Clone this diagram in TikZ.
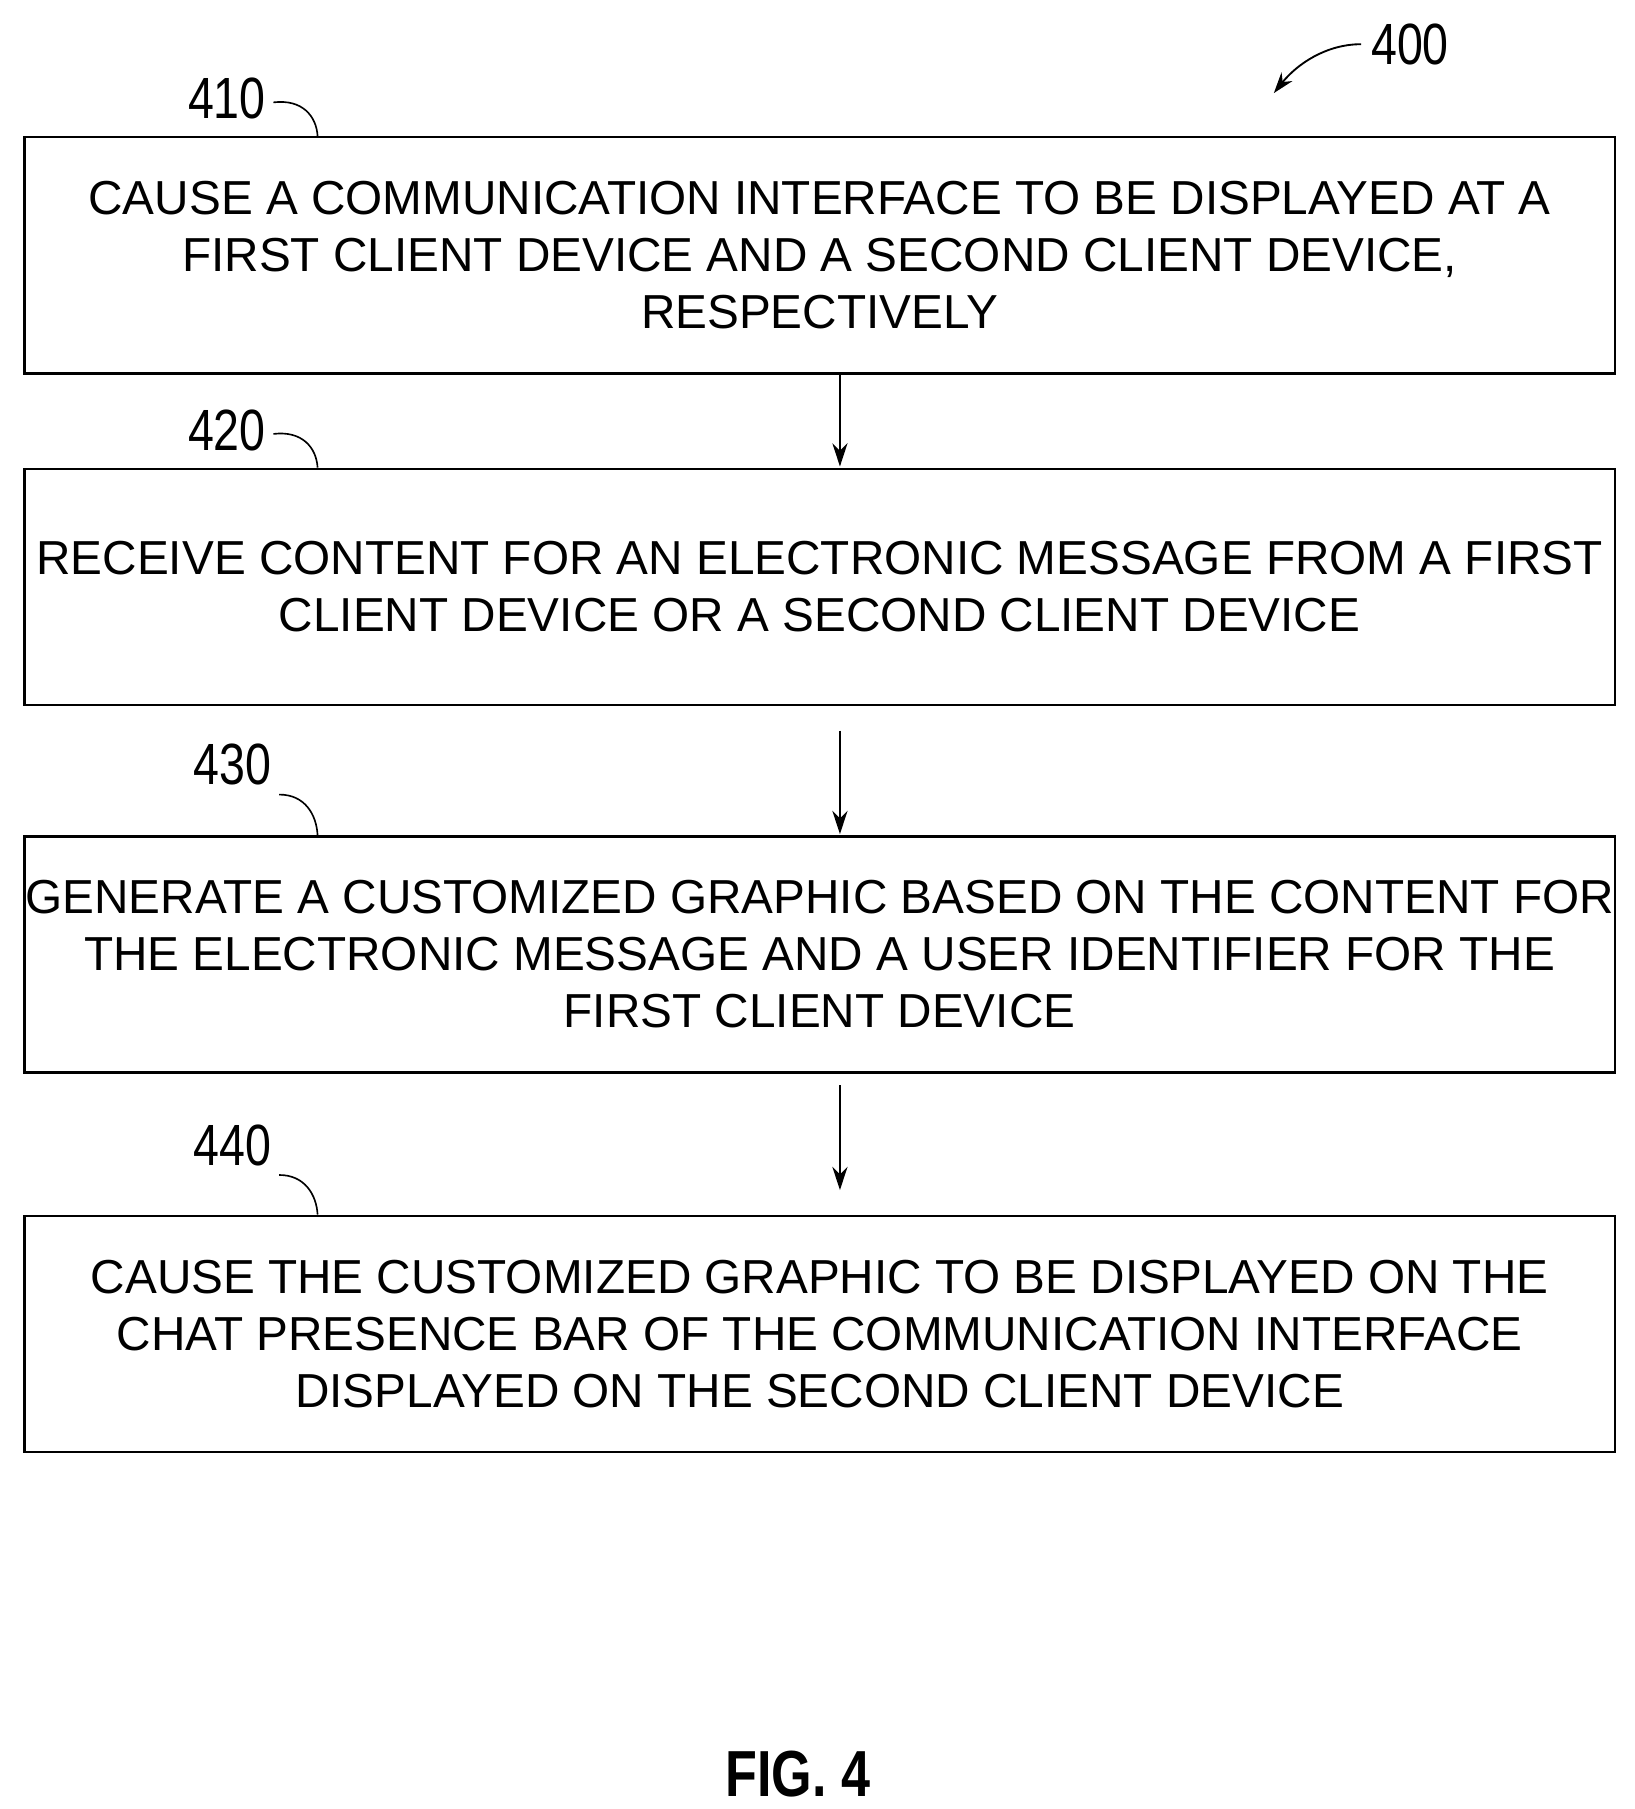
\documentclass[tikz,border=0pt]{standalone}
\usetikzlibrary{arrows.meta}
\usepackage{fontspec}
\setmainfont{Liberation Sans}
\begin{document}
\begin{tikzpicture}[x=1pt,y=-1pt,
  box/.style={draw,line width=2pt,minimum width=1367pt,minimum height=203pt,anchor=north west,inner sep=0pt,align=center,font=\fontsize{41}{49}\selectfont},
  lab/.style={font=\fontsize{50}{50}\selectfont,xscale=0.8},
  arr/.style={-{Stealth[length=20pt,width=13pt]},line width=2pt}]
\useasboundingbox (0,0) rectangle (1405,1555);
\node[box] (b1) at (20,117) {CAUSE A COMMUNICATION INTERFACE TO BE DISPLAYED AT A\\FIRST CLIENT DEVICE AND A SECOND CLIENT DEVICE,\\RESPECTIVELY};
\node[box] (b2) at (20,402) {RECEIVE CONTENT FOR AN ELECTRONIC MESSAGE FROM A FIRST\\CLIENT DEVICE OR A SECOND CLIENT DEVICE};
\node[box] (b3) at (20,718) {GENERATE A CUSTOMIZED GRAPHIC BASED ON THE CONTENT FOR\\THE ELECTRONIC MESSAGE AND A USER IDENTIFIER FOR THE\\FIRST CLIENT DEVICE};
\node[box] (b4) at (20,1044) {CAUSE THE CUSTOMIZED GRAPHIC TO BE DISPLAYED ON THE\\CHAT PRESENCE BAR OF THE COMMUNICATION INTERFACE\\DISPLAYED ON THE SECOND CLIENT DEVICE};
\coordinate (s2) at (722,628);
\coordinate (s3) at (722,933);
\draw[arr] (722,320) -- (722,401);
\draw[arr] (s2) -- (722,717);
\draw[arr] (s3) -- (722,1023);
\node[lab] (l1) at (195,85) {410};
\node[lab] (l2) at (195,370) {420};
\node[lab] (l3) at (200,657) {430};
\node[lab] (l4) at (200,985) {440};
\draw[line width=1.4pt] (235,88) .. controls (260,85) and (272,100) .. (273,117);
\draw[line width=1.4pt] (235,373) .. controls (260,370) and (272,385) .. (273,402);
\draw[line width=1.4pt] (240,683) .. controls (262,683) and (272,700) .. (273,718);
\draw[line width=1.4pt] (240,1010) .. controls (262,1010) and (272,1027) .. (273,1044);
\node[lab] (l0) at (1212,38) {400};
\draw[line width=1.6pt,-{Stealth[length=18pt,width=12pt]}] (1170,38) .. controls (1140,38) and (1115,55) .. (1095,80);
\node[font=\bfseries\fontsize{56}{56}\selectfont,xscale=0.8] (fig) at (686,1525) {FIG. 4};
\end{tikzpicture}
\end{document}
